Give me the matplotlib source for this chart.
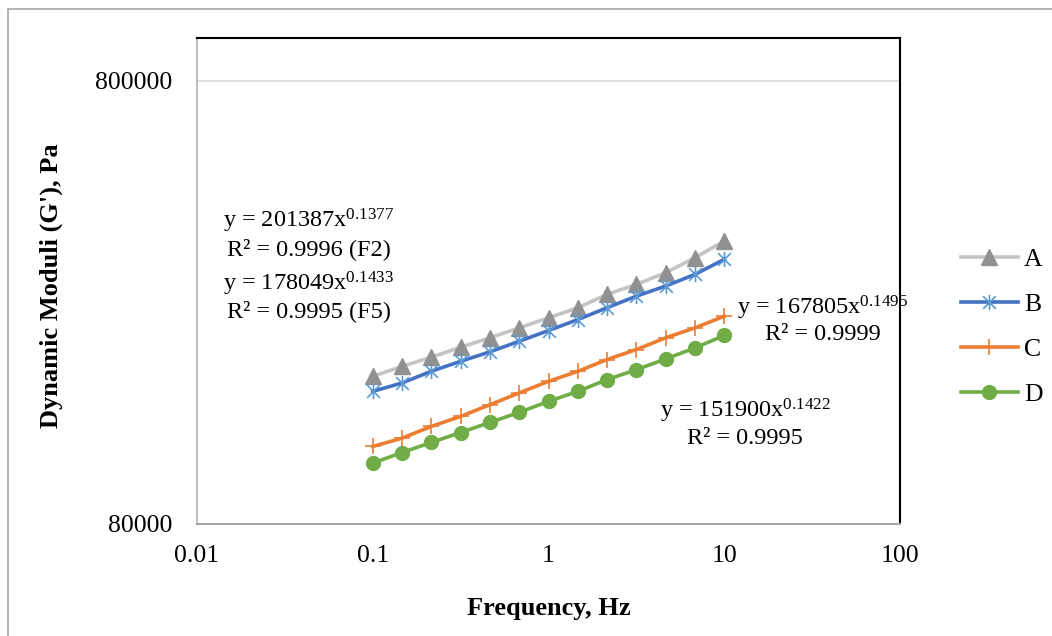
import matplotlib

matplotlib.use("Agg")
import matplotlib.pyplot as plt
from matplotlib.path import Path
from matplotlib.patches import Rectangle

plt.rcParams["font.family"] = ["Liberation Serif", "DejaVu Serif"]
plt.rcParams["mathtext.fontset"] = "custom"
plt.rcParams["mathtext.rm"] = "Liberation Serif"
plt.rcParams["mathtext.default"] = "regular"

# frequency sweep, Hz
freq = [0.1, 0.147, 0.215, 0.316, 0.464, 0.681, 1.0, 1.47, 2.15, 3.16, 4.64, 6.81, 10.0]

# storage modulus G', Pa
g_a = [172300, 181500, 190300, 200400, 210500, 221700, 233600, 246100, 263800, 277800, 295300, 319300, 348100]
g_b = [159400, 166500, 176900, 186300, 195700, 206800, 218600, 231500, 246100, 261400, 275500, 292700, 316500]
g_c = [119700, 125000, 132800, 139900, 148700, 158100, 167900, 176900, 188000, 198100, 210500, 221700, 235500]
g_d = [109800, 116000, 122200, 128700, 135600, 142900, 151300, 159400, 169400, 178400, 188600, 199800, 213100]

series_names = ["A", "B", "C", "D"]

x_ticks = [0.01, 0.1, 1, 10, 100]
x_tick_labels = ["0.01", "0.1", "1", "10", "100"]
y_ticks = [80000, 800000]
y_tick_labels = ["80000", "800000"]

# Excel "star": an X with a vertical bar
star = Path(
    [(-1, -1), (1, 1), (-1, 1), (1, -1), (0, -1.2), (0, 1.2)],
    [Path.MOVETO, Path.LINETO, Path.MOVETO, Path.LINETO, Path.MOVETO, Path.LINETO],
)

fig = plt.figure(figsize=(10.52, 6.36), dpi=100)
ax = fig.add_axes([197 / 1052, 1 - 524 / 636, 703 / 1052, 486 / 636])

# outer chart border
fig.patches.append(
    Rectangle((8 / 1052, -0.01), 1.02, 1 - 9 / 636 + 0.01, transform=fig.transFigure,
              fill=False, edgecolor="#A6A6A6", linewidth=1.2)
)

lw = 2.6
ax.plot(freq, g_a, color="#C4C4C4", lw=lw, marker="^", ms=12,
        mfc="#919191", mec="#919191", label=series_names[0], zorder=3)
ax.plot(freq, g_b, color="#4472C4", lw=lw, marker=star, ms=11, mec="#5B9BD5",
        mew=1.2, label=series_names[1], zorder=3)
ax.plot(freq, g_c, color="#ED7D31", lw=lw, marker="+", ms=12, mec="#ED7D31",
        mew=1.2, label=series_names[2], zorder=3)
ax.plot(freq, g_d, color="#70AD47", lw=lw, marker="o", ms=10,
        mfc="#70AD47", mec="#70AD47", label=series_names[3], zorder=3)

ax.set_xscale("log")
ax.set_yscale("log")
ax.set_xlim(0.01, 100)
ax.set_ylim(80000, 1000000)
ax.set_xticks(x_ticks)
ax.set_xticklabels(x_tick_labels)
ax.set_yticks(y_ticks)
ax.set_yticklabels(y_tick_labels)
ax.minorticks_off()
ax.tick_params(axis="both", length=0, labelsize=18.5)
ax.tick_params(axis="x", pad=15)
ax.tick_params(axis="y", pad=18)
ax.yaxis.grid(True, color="#D9D9D9", lw=1.2)
ax.set_axisbelow(True)

ax.spines["left"].set_color("#BFBFBF")
ax.spines["bottom"].set_color("#A6A6A6")
ax.spines["top"].set_color("black")
ax.spines["right"].set_color("black")
for s in ax.spines.values():
    s.set_linewidth(1.5)

ax.set_xlabel("Frequency, Hz", fontsize=19, fontweight="bold")
ax.set_ylabel("Dynamic Moduli (G'), Pa", fontsize=19, fontweight="bold")
ax.xaxis.set_label_coords(0.5, -0.150)
ax.yaxis.set_label_coords(-0.1906, 0.49)

fit_kw = dict(transform=ax.transAxes, fontsize=17.5, ha="center", va="center")
ax.text(0.159, (524 - 221) / 486, "y = 201387x$^{0.1377}$", **fit_kw)
ax.text(0.159, (524 - 249) / 486, "R\u00b2 = 0.9996 (F2)", **fit_kw)
ax.text(0.159, (524 - 284) / 486, "y = 178049x$^{0.1433}$", **fit_kw)
ax.text(0.159, (524 - 311) / 486, "R\u00b2 = 0.9995 (F5)", **fit_kw)
ax.text(0.890, (524 - 308) / 486, "y = 167805x$^{0.1495}$", **fit_kw)
ax.text(0.890, (524 - 335) / 486, "R\u00b2 = 0.9999", **fit_kw)
ax.text(0.7795, (524 - 411) / 486, "y = 151900x$^{0.1422}$", **fit_kw)
ax.text(0.7795, (524 - 438) / 486, "R\u00b2 = 0.9995", **fit_kw)

fig.legend(loc="center left", bbox_to_anchor=(938 / 1052, 1 - 327 / 636),
           frameon=False, fontsize=18.5, handlelength=2.2, labelspacing=0.85,
           handletextpad=0.25)

fig.savefig("out.png", dpi=100)
